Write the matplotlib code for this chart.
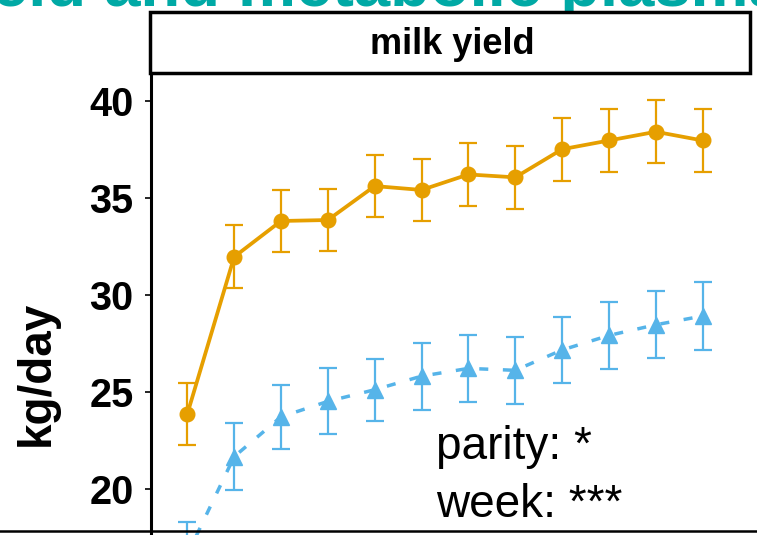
import matplotlib
matplotlib.use("Agg")
import matplotlib.pyplot as plt
from matplotlib.patches import Rectangle
from matplotlib.lines import Line2D

plt.rcParams['font.family'] = ['Liberation Sans', 'DejaVu Sans']

# Data
weeks = [1, 2, 3, 4, 5, 6, 7, 8, 9, 10, 11, 12]
multi_mean = [23.85, 31.95, 33.8, 33.85, 35.6, 35.4, 36.2, 36.05, 37.5, 37.95, 38.4, 37.95]
multi_err = [1.6, 1.63, 1.62, 1.62, 1.6, 1.62, 1.63, 1.63, 1.62, 1.61, 1.62, 1.61]
primi_mean = [16.6, 21.65, 23.7, 24.5, 25.1, 25.8, 26.2, 26.1, 27.15, 27.9, 28.45, 28.9]
primi_err = [1.7, 1.72, 1.65, 1.7, 1.6, 1.72, 1.74, 1.74, 1.68, 1.72, 1.73, 1.73]
yticks = [20, 25, 30, 35, 40]
panel_title = "milk yield"
ylabel = "kg/day"
stats = ["parity: *", "week: ***"]
title = "eld and metabolic plasma"

W, H = 757, 535
fig = plt.figure(figsize=(W / 100, H / 100), dpi=100)

ax = fig.add_axes([151 / W, 0, (750 - 151) / W, (535 - 73) / H])
ax.set_ylim(17.61, 41.43)
ax.set_xlim(0.225, 13.01)

orange = '#E69F00'
blue = '#56B4E9'

ax.errorbar(weeks, multi_mean, yerr=multi_err, color=orange, lw=2.7, marker='o',
            ms=10.5, ecolor=orange, elinewidth=1.6, capsize=6.5, capthick=1.6, zorder=3)
ax.errorbar(weeks, primi_mean, yerr=primi_err, color=blue, lw=2.5, marker='^',
            ms=12, ecolor=blue, elinewidth=1.6, capsize=6.5, capthick=1.6,
            dashes=(2.6, 4.2), zorder=3)

for s in ['top', 'right', 'bottom']:
    ax.spines[s].set_visible(False)
ax.spines['left'].set_linewidth(2.2)
ax.spines['left'].set_color('black')
ax.set_xticks([])
ax.set_yticks(yticks)
ax.tick_params(axis='y', length=4.5, width=1.2, pad=8.0, labelsize=28.5)
for lab in ax.get_yticklabels():
    lab.set_fontweight('bold')

# strip
fig.add_artist(Rectangle((150 / W, 1 - 73 / H), 600 / W, 61 / H, transform=fig.transFigure,
                         facecolor='white', edgecolor='black', lw=2.5, zorder=5))
fig.text(452 / W, 1 - 44 / H, panel_title, ha='center', va='center', fontsize=26,
         fontweight='bold', zorder=6)

# y label
fig.text(37 / W, 1 - 373 / H, ylabel, rotation=90, ha='center', va='center',
         fontsize=33, fontweight='bold')

# stats annotation
fig.text(436 / W, 1 - 459 / H, stats[0], ha='left', va='baseline', fontsize=33)
fig.text(436 / W, 1 - 517 / H, stats[1], ha='left', va='baseline', fontsize=33)

# cropped title (the reference shows only its lower edge)
fig.text(-8 / W, 1 - 6 / H, title, ha='left', va='baseline', fontsize=47,
         fontweight='bold', color='#00A9A5')

# bottom rule
fig.add_artist(Line2D([0, 1], [1 - 531 / H, 1 - 531 / H], transform=fig.transFigure,
                      color='black', lw=1.8))

fig.savefig('out.png', dpi=100)
